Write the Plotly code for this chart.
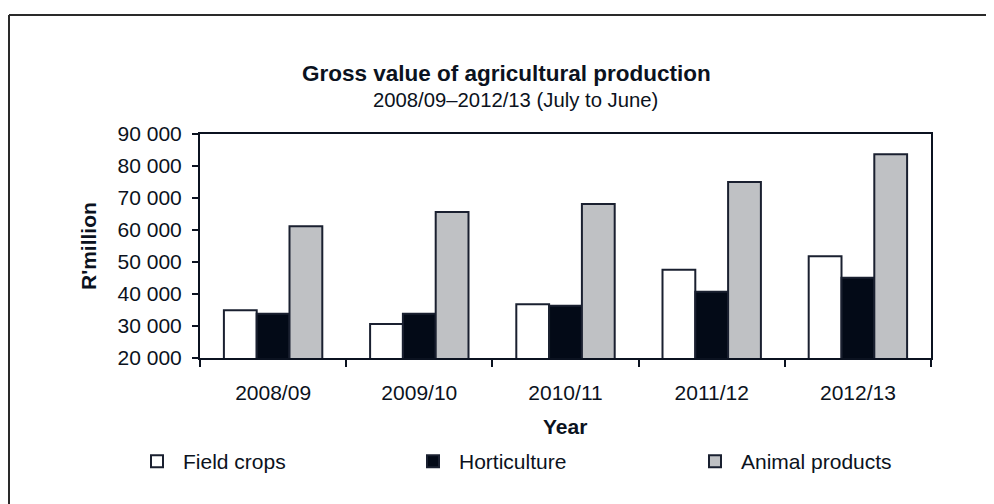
import plotly.graph_objects as go

years = ["2008/09", "2009/10", "2010/11", "2011/12", "2012/13"]
field_crops = [34900, 30600, 36800, 47600, 51800]
horticulture = [33800, 33800, 36300, 40700, 45100]
animal_products = [61200, 65600, 68100, 75000, 83700]
series_names = ["Field crops", "Horticulture", "Animal products"]

title_text = "Gross value of agricultural production"
subtitle_text = "2008/09–2012/13 (July to June)"
y_title = "R'million"
x_title = "Year"

W, H = 994, 504
BODY = 8  # default page margin of the html body
PL, PT = 200, 134          # plot-area left/top in page pixels
PW, PH = 731, 224          # plot-area size
ML, MT = PL - BODY, PT - BODY
MR = W - ML - PW
MB = H - MT - PH


def xp(px):
    return (px - PL) / PW


def yp(py):
    return (PT + PH - py) / PH


FONT = "Liberation Sans, Arial, sans-serif"
INK = "#0b1220"
OUTLINE = "#1a2030"

fills = ["#ffffff", "#030a17", "#bfc1c4"]
legend_ids = ["legend", "legend2", "legend3"]
legend_text_x = [183, 459, 741]   # page x where each legend label starts

fig = go.Figure()
for name, vals, col, lid in zip(series_names, [field_crops, horticulture, animal_products], fills, legend_ids):
    fig.add_trace(go.Bar(
        x=years, y=vals, name=name, legend=lid,
        marker=dict(color=col, line=dict(color=OUTLINE, width=2)),
    ))

legend_layouts = {}
for lid, tx in zip(legend_ids, legend_text_x):
    legend_layouts[lid] = dict(
        orientation="h", xref="paper", yref="paper",
        x=xp(tx - 52), xanchor="left", y=yp(441), yanchor="top",
        itemwidth=42,
        font=dict(size=21, color=INK), bgcolor="rgba(0,0,0,0)",
        itemclick=False, itemdoubleclick=False,
    )

fig.update_layout(
    width=W, height=H,
    margin=dict(l=ML, r=MR, t=MT, b=MB, pad=0, autoexpand=False),
    paper_bgcolor="white", plot_bgcolor="white",
    font=dict(family=FONT, size=21, color=INK),
    barmode="group", bargap=0.327, bargroupgap=0,
    separators=". ",
    showlegend=True,
    xaxis=dict(
        type="category", showline=True, linecolor=INK, linewidth=2, mirror=True,
        ticks="outside", ticklen=7, tickwidth=2, tickcolor=INK, tickson="boundaries",
        showgrid=False, zeroline=False, ticklabelstandoff=15,
        tickfont=dict(size=21, color=INK),
    ),
    yaxis=dict(
        range=[20000, 90000], dtick=10000, tickformat=",d",
        showline=True, linecolor=INK, linewidth=2, mirror=True,
        ticks="outside", ticklen=6, tickwidth=2, tickcolor=INK,
        showgrid=False, zeroline=False, ticklabelstandoff=6,
        tickfont=dict(size=21, color=INK),
    ),
    annotations=[
        dict(text="<b>" + title_text + "</b>", x=xp(506), y=yp(73), xref="paper", yref="paper",
             xanchor="center", yanchor="middle", showarrow=False, font=dict(size=22.5, color=INK)),
        dict(text=subtitle_text, x=xp(515), y=yp(100), xref="paper", yref="paper",
             xanchor="center", yanchor="middle", showarrow=False, font=dict(size=20.3, color=INK)),
        dict(text="<b>" + y_title + "</b>", x=xp(88), y=yp(246), xref="paper", yref="paper",
             xanchor="center", yanchor="middle", textangle=-90, showarrow=False,
             font=dict(size=21, color=INK)),
        dict(text="<b>" + x_title + "</b>", x=xp(565), y=yp(426), xref="paper", yref="paper",
             xanchor="center", yanchor="middle", showarrow=False, font=dict(size=21, color=INK)),
    ],
    shapes=[
        dict(type="line", xref="paper", yref="paper", x0=xp(9), x1=xp(1010), y0=yp(15), y1=yp(15),
             line=dict(color="#2a2a2a", width=2)),
        dict(type="line", xref="paper", yref="paper", x0=xp(9), x1=xp(9), y0=yp(15), y1=yp(520),
             line=dict(color="#2a2a2a", width=2)),
    ],
    **legend_layouts,
)

fig.write_html("out.html")
